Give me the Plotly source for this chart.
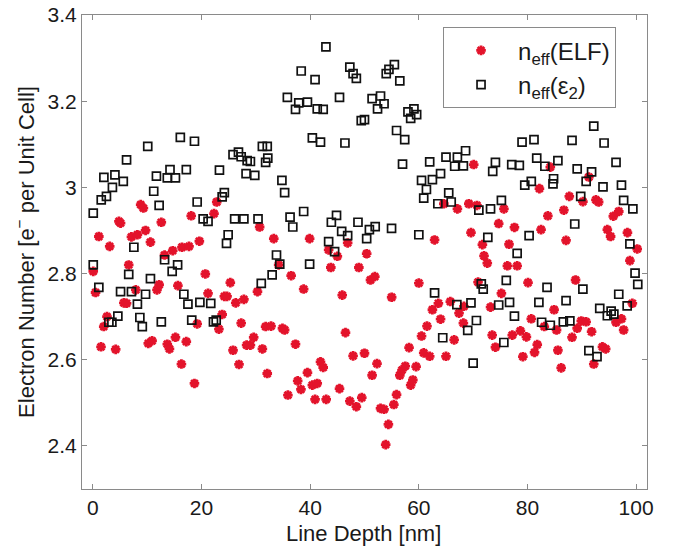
import plotly.graph_objects as go

# n_eff(ELF) - red stars
elf_x = [1.1, 3.1, 4.8, 5.1, 8.8, 9.3, 7.1, 8.2, 9.7, 10.6, 12.6, 13.2, 14.7, 16.4, 17.7, 18.1, 19.6, 22.3, 22.8, 30.7, 6.6,
         33.3, 39.9, 46.9, 43.4, 45.0, 50.4, 62.9, 64.6, 67.1, 34.2, 43.8, 48.96,
         70.1, 84.2, 91.3, 82.2, 87.7, 90.2, 92.6, 93.1, 69.2, 70.7, 75.66, 86.7, 83.75, 96.8, 95.8, 74.7, 77.6, 82.5, 69.6,
         94.7, 95.3, 87.1, 98.4, 71.7, 76.6, 72.0, 72.6, 76.3, 78.1, 100.2, 98.85,
         0.07, 0.5, 1.5, 2.0, 2.6, 4.2, 5.7, 6.2, 7.9, 10.2, 10.9, 11.8, 12.2, 13.7, 14.1, 15.2, 15.65, 16.3, 17.2, 18.7,
         19.2, 20.7, 21.2, 23.2, 23.8, 24.2, 24.7, 25.3, 25.8, 26.3, 26.9, 27.3, 27.8, 28.3, 29.0, 29.6, 30.3, 31.2, 31.8, 32.1,
         36.5, 38.8, 45.9, 51.1, 51.9, 60.0, 55.0, 32.8, 34.9, 35.3, 37.3, 46.5, 47.9, 50.0, 52.3, 51.4, 41.9, 42.4, 39.5,
         37.7, 38.3, 40.4, 41.3, 35.9, 40.9, 42.95, 45.4, 47.3, 48.5, 49.5, 52.95, 53.6, 54.4, 53.9, 55.4, 55.9, 56.5, 56.9,
         57.5, 58.2, 58.5, 58.9, 59.5, 60.5, 60.9, 62.0, 61.5, 62.5, 63.6, 64.0, 65.0, 65.8, 66.5, 67.4,
         70.9, 73.2, 75.2, 80.1, 88.85, 99.3, 68.2, 68.3, 73.5, 74.1, 77.2, 78.7, 79.8, 79.15, 80.7, 81.8, 81.3, 83.1, 84.9,
         85.35, 85.6, 86.2, 88.2, 89.15, 89.9, 90.8, 91.8, 92.2, 93.8, 94.4, 96.3, 97.3, 97.7]
elf_y = [2.886, 2.863, 2.921, 2.917, 2.96, 2.952, 2.885, 2.89, 2.9, 2.873, 2.919, 2.843, 2.853, 2.861, 2.863, 2.934, 2.875, 2.939, 2.966, 2.908, 2.82,
         2.881, 2.881, 2.871, 2.855, 2.84, 2.846, 2.878, 2.962, 2.95, 2.82, 2.814, 2.814,
         3.053, 3.047, 3.024, 2.997, 2.979, 2.967, 2.971, 2.966, 2.962, 2.958, 2.95, 2.947, 2.934, 2.944, 2.933, 2.916, 2.907, 2.902, 2.895,
         2.902, 2.886, 2.877, 2.895, 2.867, 2.868, 2.841, 2.824, 2.818, 2.818, 2.857, 2.83,
         2.805, 2.756, 2.63, 2.677, 2.7, 2.624, 2.732, 2.731, 2.762, 2.638, 2.644, 2.762, 2.774, 2.636, 2.625, 2.652, 2.772, 2.59, 2.642, 2.545,
         2.683, 2.799, 2.754, 2.671, 2.705, 2.747, 2.747, 2.779, 2.622, 2.732, 2.589, 2.685, 2.74, 2.634, 2.634, 2.652, 2.758, 2.625, 2.677, 2.568,
         2.795, 2.764, 2.75, 2.785, 2.793, 2.778, 2.745, 2.678, 2.673, 2.669, 2.636, 2.663, 2.609, 2.615, 2.591, 2.564, 2.595, 2.582, 2.57,
         2.551, 2.531, 2.541, 2.545, 2.518, 2.508, 2.508, 2.533, 2.504, 2.491, 2.512, 2.487, 2.485, 2.45, 2.403, 2.496, 2.519, 2.564, 2.576,
         2.585, 2.628, 2.541, 2.553, 2.584, 2.655, 2.616, 2.608, 2.678, 2.716, 2.731, 2.694, 2.608, 2.735, 2.646, 2.708,
         2.78, 2.722, 2.754, 2.779, 2.785, 2.731, 2.685, 2.724, 2.657, 2.629, 2.657, 2.667, 2.653, 2.607, 2.695, 2.635, 2.617, 2.677, 2.716,
         2.669, 2.622, 2.581, 2.652, 2.673, 2.69, 2.688, 2.665, 2.59, 2.63, 2.625, 2.687, 2.695, 2.669]

# n_eff(eps2) - black open squares
eps_x = [0.07, 1.54, 2.5, 3.6, 2.03, 4.06, 5.6, 6.2, 10.1, 11.2, 11.7, 12.2, 14.2, 13.7, 15.2, 16.1, 17.2, 18.7, 19.2, 20.3, 21.2,
         23.3, 24.2, 23.8, 24.9, 24.6, 25.8, 26.8, 27.3, 28.4, 29.0, 28.2, 29.8, 26.1, 27.8, 30.4, 31.2, 32.1, 31.8, 7.55, 13.2, 15.6, 0.07,
         42.9, 38.35, 40.9, 47.3, 47.9, 48.5, 54.0, 54.5, 55.5, 56.5, 35.8, 37.3, 37.9, 39.5, 41.3, 42.4, 45.4, 51.4, 52.95, 53.6, 52.4,
         49.4, 50.0, 58.0, 59.1, 59.6, 58.5, 40.4, 41.9, 46.4, 55.9, 57.4, 32.2, 57.0, 62.0, 65.0, 66.6, 64.0, 62.5, 60.5, 61.4, 60.9,
         63.5, 65.5, 65.96, 34.8, 35.3, 36.3, 36.8, 38.8, 44.85, 43.9, 45.8, 46.9, 48.8, 50.9, 51.97, 50.4, 54.98, 60.0, 43.4, 44.5,
         33.8, 34.4, 39.9,
         92.2, 79.0, 81.2, 88.2, 94.1, 67.1, 68.2, 68.6, 74.1, 73.6, 77.1, 78.5, 81.7, 83.2, 85.6, 89.15, 91.8, 90.8, 96.3, 84.8, 84.7,
         79.5, 80.7, 93.9, 97.3, 89.8, 97.7, 99.4, 71.05, 73.2, 75.2, 88.7, 80.3, 72.7, 78.1, 98.85,
         1.1, 6.6, 14.6, 10.6, 5.1, 7.1, 9.7, 8.2, 4.6, 2.95, 3.5, 8.65, 9.1, 12.6, 16.75, 17.5, 19.7, 21.7, 18.2, 22.2, 22.7, 31.0, 33.0,
         62.9, 67.0, 64.4,
         71.5, 71.85, 76.1, 83.6, 90.2, 99.8, 100.3, 96.8, 98.35, 69.6, 70.6, 69.0, 76.7, 74.7, 77.6, 75.65, 82.1, 82.6, 84.2, 86.6,
         87.8, 87.1, 93.3, 94.7, 95.4, 95.9, 70.0, 91.3, 92.8]
eps_y = [2.94, 2.971, 2.979, 3.0, 3.023, 3.029, 3.014, 3.064, 3.095, 2.991, 3.026, 2.958, 3.041, 3.022, 3.022, 3.116, 3.041, 3.107, 2.966, 2.927, 2.921,
         3.04, 2.988, 2.978, 2.89, 2.87, 3.076, 3.082, 3.071, 3.062, 3.06, 3.032, 3.028, 2.927, 2.927, 2.927, 3.095, 3.095, 3.058, 2.861, 2.832, 2.82, 2.82,
         3.326, 3.27, 3.25, 3.279, 3.264, 3.253, 3.264, 3.274, 3.285, 3.247, 3.209, 3.181, 3.196, 3.198, 3.182, 3.181, 3.209, 3.206, 3.212, 3.194, 3.182,
         3.155, 3.157, 3.175, 3.182, 3.169, 3.16, 3.115, 3.105, 3.103, 3.132, 3.111, 3.068, 3.054, 3.059, 3.07, 3.049, 3.032, 3.018, 3.016, 2.995, 2.975,
         2.962, 2.987, 2.966, 3.016, 2.988, 2.931, 2.908, 2.944, 2.935, 2.919, 2.898, 2.888, 2.919, 2.902, 2.909, 2.881, 2.905, 2.89, 2.874, 2.851,
         2.843, 2.822, 2.822,
         3.142, 3.105, 3.111, 3.109, 3.103, 3.07, 3.05, 3.085, 3.058, 3.037, 3.053, 3.051, 3.068, 3.049, 3.062, 3.043, 3.036, 3.014, 3.058, 3.02, 3.008,
         3.005, 3.014, 3.001, 3.005, 2.979, 2.97, 2.95, 2.947, 2.95, 2.97, 2.915, 2.888, 2.884, 2.847, 2.869,
         2.768, 2.798, 2.805, 2.788, 2.758, 2.758, 2.752, 2.729, 2.701, 2.687, 2.687, 2.698, 2.677, 2.688, 2.752, 2.729, 2.733, 2.731, 2.692, 2.688, 2.692, 2.777, 2.797,
         2.755, 2.728, 2.651,
         2.776, 2.764, 2.784, 2.768, 2.764, 2.801, 2.775, 2.752, 2.725, 2.732, 2.691, 2.668, 2.733, 2.727, 2.701, 2.64, 2.733, 2.687, 2.68, 2.688,
         2.69, 2.737, 2.719, 2.702, 2.713, 2.706, 2.592, 2.621, 2.607]

x_ticks = [0, 20, 40, 60, 80, 100]
y_ticks = [2.4, 2.6, 2.8, 3.0, 3.2, 3.4]
y_ticktext = ["2.4", "2.6", "2.8", "3", "3.2", "3.4"]

FONT = "Liberation Sans, Arial, Helvetica, sans-serif"
AXCOL = "#8a8a8a"
TXT = "#1a1a1a"

fig = go.Figure()
fig.add_trace(go.Scatter(
    x=elf_x, y=elf_y, mode="markers", name="n<sub>eff</sub>(ELF)",
    marker=dict(symbol="asterisk-open", size=8, color="#e3132b",
                line=dict(color="#e3132b", width=2.8)),
))
fig.add_trace(go.Scatter(
    x=eps_x, y=eps_y, mode="markers", name="n<sub>eff</sub>(ε<sub>2</sub>)",
    marker=dict(symbol="square-open", size=8, color="#111111",
                line=dict(color="#111111", width=1.7)),
))

axis_common = dict(showline=True, linecolor=AXCOL, linewidth=1, mirror="ticks",
                   ticks="inside", ticklen=5, tickcolor=AXCOL, showgrid=False,
                   zeroline=False, automargin=False,
                   tickfont=dict(family=FONT, size=21, color=TXT))

fig.update_layout(
    width=678, height=548,
    margin=dict(l=82, r=31, t=15, b=59),
    paper_bgcolor="white", plot_bgcolor="white",
    font=dict(family=FONT, color=TXT),
    xaxis=dict(range=[-2, 102], tickvals=x_ticks, **axis_common),
    yaxis=dict(range=[2.3, 3.4], tickvals=y_ticks, ticktext=y_ticktext,
               title=dict(text="Electron Number [e<sup>−</sup> per Unit Cell]",
                          font=dict(family=FONT, size=22, color=TXT), standoff=6),
               **axis_common),
    legend=dict(x=0.639, y=0.974, xanchor="left", yanchor="top",
                bordercolor=AXCOL, borderwidth=1, bgcolor="white",
                font=dict(family=FONT, size=24, color=TXT),
                itemwidth=64),
    showlegend=True,
    annotations=[dict(text="Line Depth [nm]", xref="paper", yref="paper",
                      x=0.498, y=-0.093, xanchor="center", yanchor="middle",
                      showarrow=False, font=dict(family=FONT, size=22, color=TXT))],
)

fig.write_html("out.html", config={"displayModeBar": False},
               post_script="document.body.style.margin='0px';document.body.style.overflow='hidden';")
